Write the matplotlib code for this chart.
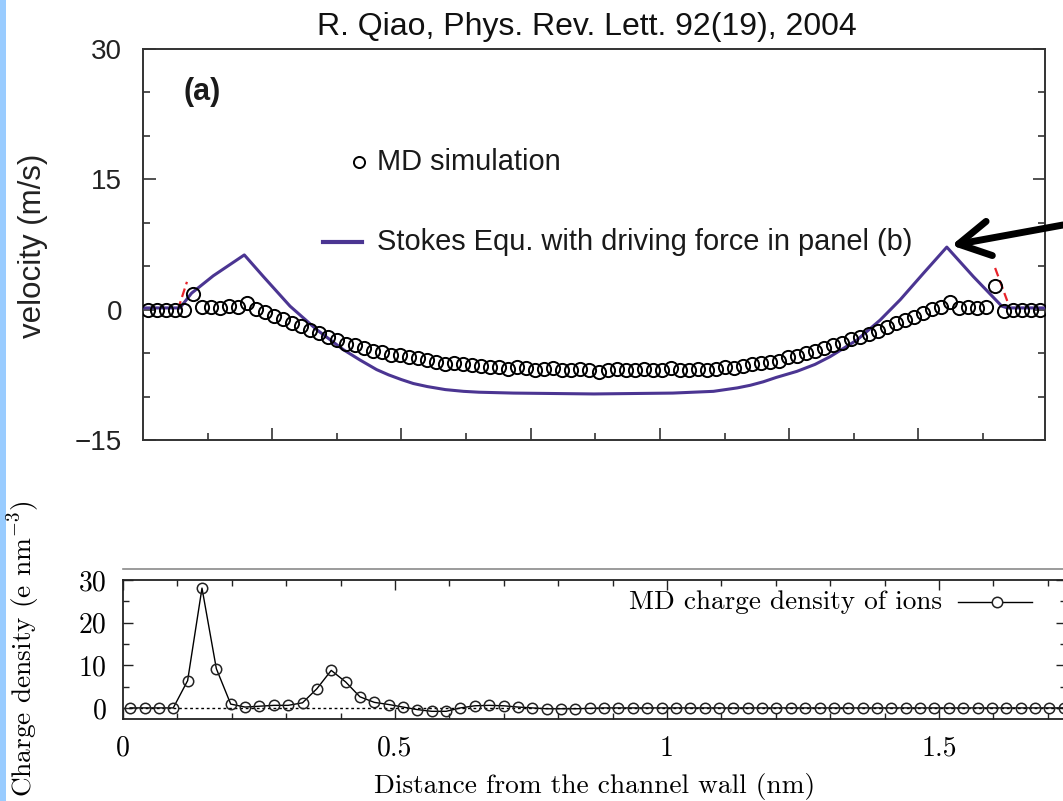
import numpy as np
import matplotlib.pyplot as pl
import matplotlib as mpl
from matplotlib.lines import Line2D
from matplotlib.patches import Rectangle

mpl.rcParams['mathtext.fontset'] = 'cm'
mpl.rcParams['axes.unicode_minus'] = False

###-----------------------------------------
# panel (a): velocity across the 3.49 nm channel

vel_binw = 0.0349   # nm, MD bin width
md_vel = [0, 0, 0, 0, 0, 1.8, 0.3, 0.3, 0.2, 0.4,
          0.3, 0.8, 0.1, -0.3, -0.7, -1.1, -1.5, -1.9, -2.3, -2.7,
          -3.1, -3.5, -3.9, -4.1, -4.4, -4.7, -4.9, -5.2, -5.2, -5.5,
          -5.6, -5.8, -6.0, -6.2, -6.1, -6.3, -6.4, -6.5, -6.6, -6.6,
          -6.8, -6.6, -6.7, -6.9, -6.8, -6.7, -6.9, -7.0, -6.8, -6.9,
          -7.2, -6.9, -6.8, -7.0, -7.0, -6.8, -6.9, -7.0, -6.7, -6.9,
          -7.0, -6.8, -6.9, -6.8, -6.6, -6.7, -6.5, -6.3, -6.1, -6.0,
          -5.9, -5.5, -5.3, -5.0, -4.8, -4.4, -4.1, -3.8, -3.4, -3.1,
          -2.8, -2.4, -2.0, -1.5, -1.2, -0.8, -0.4, 0.1, 0.3, 0.9,
          0.2, 0.3, 0.2, 0.3, 2.7, -0.2, 0, 0, 0, 0]
md_x = (np.arange(len(md_vel)) + 0.5) * vel_binw

stokes_x = [0.0, 0.143, 0.188, 0.272, 0.392, 0.466, 0.569, 0.672, 0.775, 0.84,
            0.904, 0.95, 1.0, 1.046, 1.1, 1.17, 1.24, 1.3, 1.433, 1.745,
            2.050, 2.207, 2.30, 2.35, 2.400, 2.45, 2.530, 2.60, 2.659, 2.762,
            2.852, 2.930, 3.020, 3.110, 3.213, 3.323, 3.345, 3.49]
stokes_v = [0.2, 0.2, 1.9, 3.9, 6.3, 3.8, 0.4, -2.3, -4.6, -5.8,
            -6.9, -7.5, -8.05, -8.5, -8.85, -9.2, -9.4, -9.5, -9.6, -9.7,
            -9.6, -9.4, -9.0, -8.7, -8.3, -7.8, -7.1, -6.3, -5.4, -3.5,
            -1.2, 1.15, 4.2, 7.2, 3.8, 0.4, 0.2, 0.2]

# red dashed bits near the walls
red_left_x = [0.135, 0.170]
red_left_v = [0.0, 3.2]
red_right_x = [3.297, 3.344]
red_right_v = [4.8, 1.0]

# panel (b): MD charge density of ions
rho_binw = 0.0264   # nm
rho = [0, 0, 0, 0, 6.4, 28.1, 9.2, 0.9, 0.2, 0.4,
       0.6, 0.6, 1.2, 4.5, 8.8, 6.1, 2.6, 1.3, 0.8, 0.2,
       -0.4, -0.8, -0.8, 0.0, 0.5, 0.6, 0.5, 0.2, 0, -0.2,
       -0.2, -0.2, -0.1, 0, 0, 0, 0, 0, 0, 0,
       0, 0, 0, 0, 0, 0, 0, 0, 0, 0,
       0, 0, 0, 0, 0, 0, 0, 0, 0, 0,
       0, 0, 0, 0, 0, 0]
rho_x = (np.arange(len(rho)) + 0.5) * rho_binw

vel_ticks = [-15, 0, 15, 30]
rho_ticks = [0, 10, 20, 30]
dist_ticks = [0, 0.5, 1, 1.5]
dist_labs = ['0', '0.5', '1', '1.5']

purple = '#4b3592'
sans = 'Liberation Sans'
cm = 'cmr10'

###-----------------------------------------

fig = pl.figure(figsize=(10.63, 8.01), dpi=100)
W, H = 1063., 801.

def box(x0, y0, x1, y1):
    return [x0 / W, 1 - y1 / H, (x1 - x0) / W, (y1 - y0) / H]

# left blue strip of the slide
fig.add_artist(Rectangle((0, 0), 6 / W, 1, transform=fig.transFigure,
                         color='#99ccff', lw=0))

ax1 = fig.add_axes(box(143, 49, 1045, 440))
ax1.plot(stokes_x, stokes_v, color=purple, lw=2.2, zorder=3)
ax1.plot(red_left_x, red_left_v, color='#e8232a', lw=1.6, ls=(0, (4, 2)), zorder=2)
ax1.plot(red_right_x, red_right_v, color='#e8232a', lw=1.6, ls=(0, (4, 2)), zorder=2)
ax1.plot(md_x, md_vel, ls='none', marker='o', ms=9.5, mfc='none', mec='k',
         mew=1.4, zorder=4)

ax1.set_xlim(0, 3.49)
ax1.set_ylim(-15, 30)
ax1.set_yticks(vel_ticks)
ax1.set_yticks(np.arange(-15, 31, 5), minor=True)
ax1.set_xticks(np.arange(0.5, 3.3, 0.5))
ax1.set_xticks(np.arange(0.25, 3.4, 0.25), minor=True)
ax1.set_xticklabels([])
ax1.set_yticklabels([u'\u221215', '0', '15', '30'], fontfamily=sans, fontsize=20,
                    color='#222222')
ax1.tick_params(which='both', direction='in', right=True, top=False, width=1.2,
                color='#333333', pad=15)
ax1.tick_params(which='major', length=9)
ax1.tick_params(which='minor', length=5)
for s in ax1.spines.values():
    s.set_linewidth(1.4)
    s.set_color('#333333')
fig.text(33 / W, 1 - 246 / H, 'velocity (m/s)', fontfamily=sans, fontsize=22.5,
         color='#222222', rotation=90, ha='center', va='center')

ax1.text(0.045, 0.89, '(a)', transform=ax1.transAxes, fontfamily=sans,
         fontsize=22, fontweight='bold', color='#1a1a1a', va='center')

# legend (a), drawn by hand to follow the figure
ax1.plot([0.240], [0.710], transform=ax1.transAxes, ls='none', marker='o',
         ms=8, mfc='none', mec='k', mew=1.4, clip_on=False)
ax1.text(0.259, 0.710, 'MD simulation', transform=ax1.transAxes,
         fontfamily=sans, fontsize=20.9, color='#1a1a1a', va='center')
ax1.plot([0.200, 0.243], [0.507, 0.507], transform=ax1.transAxes, color=purple,
         lw=3, clip_on=False)
ax1.text(0.259, 0.507, 'Stokes Equ. with driving force in panel (b)',
         transform=ax1.transAxes, fontfamily=sans, fontsize=20.9,
         color='#1a1a1a', va='center')

fig.text(587 / W, 1 - 27 / H, 'R. Qiao, Phys. Rev. Lett. 92(19), 2004',
         fontfamily=sans, fontsize=23, ha='center', va='center', color='#111111')

ax1.annotate('', xy=(3.128, 7.4), xycoords='data',
             xytext=(1.0, 1 - 225 / H), textcoords='figure fraction',
             arrowprops=dict(arrowstyle='->,head_length=0.9,head_width=0.5',
                             lw=5, color='k', mutation_scale=25,
                             shrinkA=0, shrinkB=0), annotation_clip=False)

###-----------------------------------------

ax2 = fig.add_axes(box(123, 580, 1066, 719))
ax2.axhline(0, color='k', lw=1.0, ls=(0, (2, 2)), zorder=1)
ax2.plot(rho_x, rho, color='k', lw=1.0, marker='o', ms=7.5, mfc='none',
         mec='#222222', mew=1.1, zorder=3)

ax2.set_xlim(0, (1066 - 123) / 544.)
ax2.set_ylim(-2.6, 30)
ax2.set_xticks(dist_ticks)
ax2.set_xticks(np.arange(0, 1.75, 0.1), minor=True)
ax2.set_xticklabels(dist_labs, fontfamily=cm, fontsize=20)
ax2.set_yticks(rho_ticks)
ax2.set_yticks(np.arange(0, 31, 5), minor=True)
ax2.set_yticklabels([str(t) for t in rho_ticks], fontfamily=cm, fontsize=20)
ax2.tick_params(which='both', direction='in', top=True, right=True, width=1.0,
                color='#222222')
ax2.tick_params(which='major', length=7, pad=12)
ax2.tick_params(which='minor', length=4)
for s in ax2.spines.values():
    s.set_linewidth(1.3)
    s.set_color('#222222')

ax2.set_xlabel('Distance from the channel wall (nm)', fontfamily=cm, fontsize=19.7,
               labelpad=8)
fig.text(24 / W, 1 - 649 / H, r'Charge density (e nm$^{-3}$)', fontfamily=cm,
         fontsize=19.7, rotation=90, ha='center', va='center')

# legend (b), gnuplot style: key text then sample
ax2.text(942 / W, 1 - 602 / H, 'MD charge density of ions', transform=fig.transFigure,
         fontfamily=cm, fontsize=19.6, ha='right', va='center')
fig.add_artist(Line2D([958 / W, 1032 / W], [1 - 602 / H] * 2, color='k', lw=1.0))
fig.add_artist(Line2D([997 / W], [1 - 602 / H], ls='none', marker='o', ms=7.5,
                      mfc='white', mec='#222222', mew=1.1))

# thin rule above the lower panel
fig.add_artist(Line2D([123 / W, 1.0], [1 - 569 / H] * 2, color='#8a8a8a', lw=1.2))

pl.savefig('out.png', dpi=100)
